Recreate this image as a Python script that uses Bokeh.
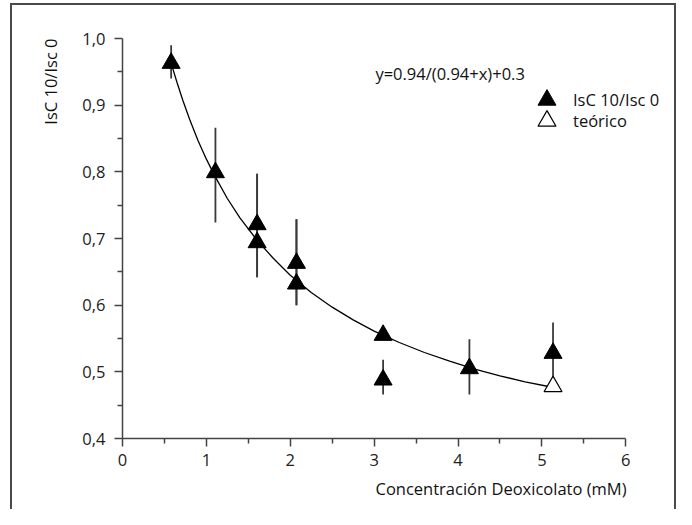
import math
from bokeh.plotting import figure
from bokeh.layouts import column
from bokeh.models import (Range1d, FixedTicker, CustomJSTickFormatter, ColumnDataSource,
                          Legend, LegendItem, Title)
from bokeh.core.properties import value
from bokeh.embed import file_html
from bokeh.resources import INLINE

# ---- data ----
conc = [0.58, 1.108, 1.605, 1.605, 2.074, 2.074, 3.107, 3.107, 4.136, 5.133]
ratio = [0.963, 0.799, 0.721, 0.694, 0.663, 0.632, 0.555, 0.488, 0.505, 0.528]
err_low = [0.94, 0.724, 0.642, 0.642, 0.600, 0.600, 0.555, 0.466, 0.466, 0.485]
err_high = [0.99, 0.866, 0.797, 0.797, 0.729, 0.729, 0.555, 0.518, 0.549, 0.574]

theo_x = [5.133]
theo_y = [0.478]

curve_x = [0.58, 0.65, 0.72, 0.80, 0.90, 1.0, 1.1, 1.25, 1.4, 1.6, 1.8, 2.0,
           2.25, 2.5, 2.75, 3.0, 3.3, 3.6, 3.9, 4.2, 4.5, 4.8, 5.08]
curve_y = [0.963, 0.934, 0.907, 0.879, 0.847, 0.819, 0.794, 0.760, 0.731, 0.698, 0.670, 0.645,
           0.619, 0.597, 0.578, 0.561, 0.544, 0.529, 0.516, 0.504, 0.494, 0.485, 0.478]

x_ticks = [0, 1, 2, 3, 4, 5, 6]
x_minor = [0.5, 1.5, 2.5, 3.5, 4.5, 5.5]
y_ticks = [0.4, 0.5, 0.6, 0.7, 0.8, 0.9, 1.0]
y_minor = [0.45, 0.55, 0.65, 0.75, 0.85, 0.95]

series_label = "IsC 10/Isc 0"
theo_label = "teórico"
equation = "y=0.94/(0.94+x)+0.3"
x_title = "Concentración Deoxicolato (mM)"
y_title = "IsC 10/Isc 0"

FONT = "Open Sans"
FS = "16.5px"
FRAME = "#4a4a4a"

p = figure(width=662, height=504, output_backend="svg", toolbar_location=None,
           x_range=Range1d(0, 6.45), y_range=Range1d(0.4, 1.0),
           min_border_left=110, min_border_right=11, min_border_top=33, min_border_bottom=71)
p.outline_line_color = None
p.grid.visible = False
p.background_fill_color = "white"
p.border_fill_color = "white"

for ax, ticks, minor, bnds, stand in ((p.xaxis[0], x_ticks, x_minor, (0, 6), 7),
                                      (p.yaxis[0], y_ticks, y_minor, (0.4, 1.0), 9)):
    ax.ticker = FixedTicker(ticks=ticks, minor_ticks=minor)
    ax.bounds = bnds
    ax.axis_line_color = "#444444"
    ax.axis_line_width = 1.5
    ax.major_tick_line_color = "#444444"
    ax.major_tick_line_width = 1.5
    ax.minor_tick_line_color = "#444444"
    ax.minor_tick_line_width = 1.5
    ax.major_tick_in = 0
    ax.major_tick_out = 8
    ax.minor_tick_in = 0
    ax.minor_tick_out = 5
    ax.major_label_text_font = FONT
    ax.major_label_text_font_size = FS
    ax.major_label_text_color = "#222222"
    ax.major_label_standoff = stand

p.xaxis[0].formatter = CustomJSTickFormatter(code="return tick.toFixed(0);")
p.yaxis[0].formatter = CustomJSTickFormatter(code="return tick.toFixed(1).replace('.', ',');")

# axis titles as titles in the side panels, aligned to the axis ends
p.add_layout(Title(text=x_title, align="right", offset=37, standoff=12, text_font=FONT,
                   text_font_size=FS, text_font_style="normal", text_color="#111111"), "below")
p.add_layout(Title(text=y_title, align="right", offset=0, standoff=35, text_font=FONT,
                   text_font_size=FS, text_font_style="normal", text_color="#111111"), "left")

src = ColumnDataSource(dict(x=conc, y=ratio, lo=err_low, hi=err_high))
p.segment(x0="x", y0="lo", x1="x", y1="hi", source=src, line_color="#3a3a3a", line_width=1.8)
p.line(curve_x, curve_y, line_color="black", line_width=1.3)
r_data = p.scatter(x="x", y="y", source=src, marker="triangle", size=18,
                   fill_color="black", line_color="black")
r_theo = p.scatter(theo_x, theo_y, marker="triangle", size=18, fill_color="white",
                   line_color="black", line_width=1.2)

p.text([3.015], [0.947], text=[equation], text_font=value(FONT), text_font_size=value(FS),
       text_baseline="middle", text_align="left", text_color="#111111")

common = dict(glyph_width=45, glyph_height=45, spacing=0, padding=0, margin=0,
              label_standoff=4, border_line_color=None, background_fill_alpha=0,
              label_text_font=FONT, label_text_font_size=FS, label_text_color="#111111")
p.add_layout(Legend(items=[LegendItem(label=series_label, renderers=[r_data], index=0)],
                    location=(402, 316), **common))
p.add_layout(Legend(items=[LegendItem(label=theo_label, renderers=[r_theo])],
                    location=(402, 295), **common))

# frame around the whole chart (open at the bottom), drawn by the wrapper's background
frame_bg = (f"linear-gradient({FRAME}, {FRAME}) 10px 3px / 2px 100% no-repeat, "
            f"linear-gradient({FRAME}, {FRAME}) 10px 3px / calc(100% - 10px) 2px no-repeat, "
            f"linear-gradient({FRAME}, {FRAME}) right 0px top 3px / 2px 100% no-repeat, white")
root = column(p, styles={"padding-left": "12px", "padding-top": "5px", "padding-right": "2px",
                         "background": frame_bg})

open("out.html", "w").write(file_html(root, INLINE))
